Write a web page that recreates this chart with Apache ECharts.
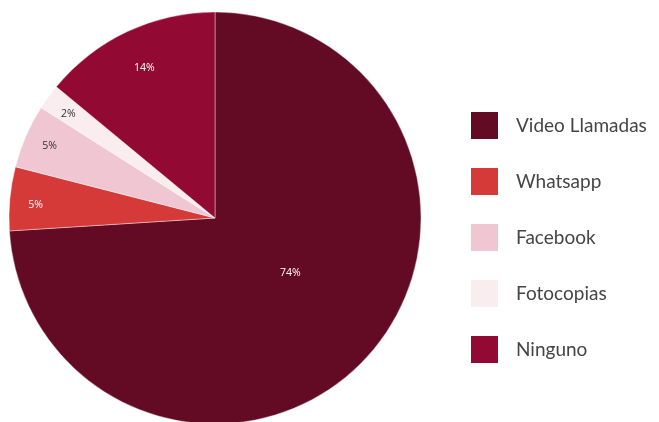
<!DOCTYPE html>
<html>
<head>
<meta charset="utf-8">
<script src="https://cdn.jsdelivr.net/npm/echarts@6/dist/echarts.min.js"></script>
<style>
  html, body { margin: 0; padding: 0; background: #fff; }
  #chart { width: 659px; height: 422px; }
</style>
</head>
<body>
<div id="chart"></div>
<script>
const categories = ["Video Llamadas", "Whatsapp", "Facebook", "Fotocopias", "Ninguno"];
const values = [74, 5, 5, 2, 14];
const colors = ["#630A25", "#D63A38", "#F0C6D2", "#FAEDEF", "#920A33"];
const labelColors = ["#fff", "#fff", "#333", "#333", "#fff"];

// small nudges so the labels sit where the original put them
const labelNudge = [[-2, -18], [0, 4], [0, 0], [-1, 2], [6, 13]];

const chart = echarts.init(document.getElementById("chart"));

const center = [215, 218];
const radius = 206;

// main pie: only the big slice gets its label here (placed at mid radius)
const mainData = categories.map((name, i) => ({
  name: name,
  value: values[i],
  itemStyle: { color: colors[i] },
  label: { show: i === 0, color: labelColors[i] }
}));

// transparent overlay pie, used only to place the small slice labels near the rim
const overlayData = categories.map((name, i) => ({
  name: name,
  value: values[i],
  itemStyle: { color: "rgba(0,0,0,0)" },
  label: { show: i !== 0, color: labelColors[i] }
}));

const nudge = function (params) {
  const n = labelNudge[params.dataIndex];
  return { dx: n[0], dy: n[1] };
};

const option = {
  animation: false,
  legend: {
    data: categories,
    orient: "vertical",
    left: 464,
    top: 105,
    itemWidth: 29,
    itemHeight: 29,
    itemGap: 25,
    icon: "rect",
    textStyle: {
      fontFamily: "Lato",
      fontSize: 19,
      color: "#454545",
      padding: [0, 0, 0, 12]
    }
  },
  series: [
    {
      name: "main",
      type: "pie",
      center: center,
      radius: [0, radius],
      startAngle: 90,
      clockwise: true,
      avoidLabelOverlap: false,
      itemStyle: { borderColor: "#fff", borderWidth: 0.4 },
      label: {
        position: "inside",
        formatter: "{d}%",
        fontFamily: "Open Sans",
        fontSize: 10.5
      },
      labelLayout: nudge,
      labelLine: { show: false },
      emphasis: { disabled: true },
      data: mainData
    },
    {
      name: "labels",
      type: "pie",
      silent: true,
      center: center,
      radius: [radius * 0.72, radius],
      startAngle: 90,
      clockwise: true,
      avoidLabelOverlap: false,
      label: {
        position: "inside",
        formatter: "{d}%",
        fontFamily: "Open Sans",
        fontSize: 10.5
      },
      labelLayout: nudge,
      labelLine: { show: false },
      emphasis: { disabled: true },
      data: overlayData
    }
  ]
};

chart.setOption(option);
</script>
</body>
</html>
